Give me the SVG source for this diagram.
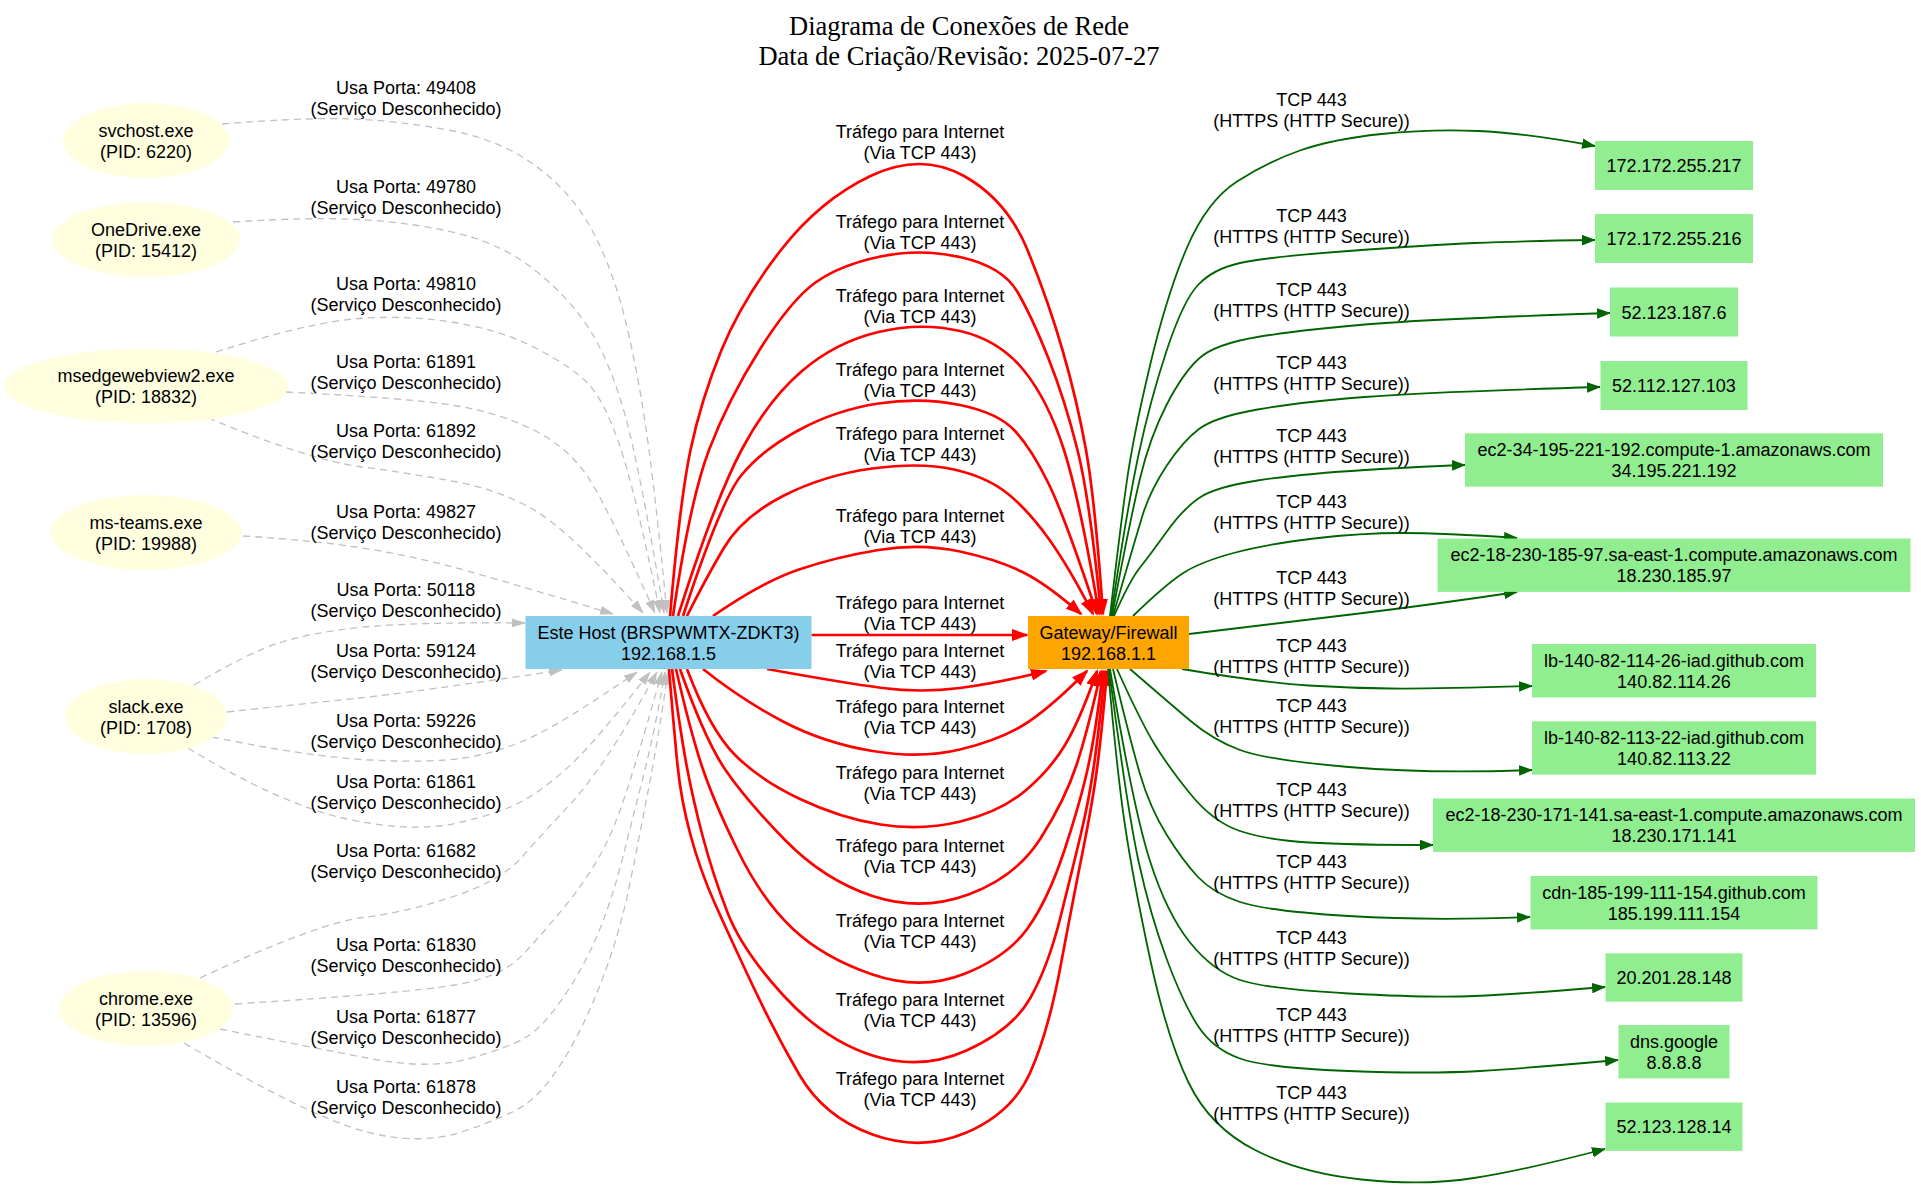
<svg xmlns="http://www.w3.org/2000/svg" width="1921" height="1187" viewBox="0 0 1921 1187">
<style>
text{font-family:"Liberation Sans",Arial,sans-serif;font-size:18px;fill:#000;text-anchor:middle}
.title{font-family:"Liberation Serif","Times New Roman",serif;font-size:26.5px}
.gray{fill:none;stroke:#c0c0c0;stroke-width:1.3;stroke-dasharray:7,5;marker-end:url(#ag)}
.red{fill:none;stroke:#ff0000;stroke-width:2.7;marker-end:url(#ar)}
.green{fill:none;stroke:#006400;stroke-width:1.8;marker-end:url(#agr)}
.proc{fill:#ffffe0}
.dest{fill:#90ee90}
</style>
<defs>
<marker id="ag" markerUnits="userSpaceOnUse" viewBox="0 0 14 9" refX="13" refY="4.5" markerWidth="14" markerHeight="9" orient="auto"><path d="M0,0 L14,4.5 L0,9 z" fill="#c0c0c0"/></marker>
<marker id="ar" markerUnits="userSpaceOnUse" viewBox="0 0 17 12" refX="15" refY="6" markerWidth="17" markerHeight="12" orient="auto"><path d="M0,0 L17,6 L0,12 z" fill="#ff0000"/></marker>
<marker id="agr" markerUnits="userSpaceOnUse" viewBox="0 0 14 10.6" refX="13" refY="5.3" markerWidth="14" markerHeight="10.6" orient="auto"><path d="M0,0 L14,5.3 L0,10.6 z" fill="#006400"/></marker>
</defs>
<rect width="1921" height="1187" fill="#fff"/>
<g id="title">
<text class="title" x="959" y="35">Diagrama de Conexões de Rede</text>
<text class="title" x="959" y="65">Data de Criação/Revisão: 2025-07-27</text>
</g>
<g id="connectors">
<path class="gray" d="M222,124 Q310,117 355,119 Q400,121 450.5,130.5 Q501,140 536.5,166.5 Q572,193 592,230 Q612,267 624.5,317 Q637,367 646,428.5 Q655,490 667,613"/>
<path class="gray" d="M233,222 Q310,217 359,219.5 Q408,222 454.5,232.5 Q501,243 536.5,271.5 Q572,300 592,333.5 Q612,367 626,418.5 Q640,470 664,613"/>
<path class="gray" d="M216,352 Q310,322 359,318.5 Q408,315 454.5,322.5 Q501,330 536.5,348.5 Q572,367 588,383.5 Q604,400 619.5,445 Q635,490 660,613"/>
<path class="gray" d="M286,392 Q408,398 454.5,405.5 Q501,413 536.5,431.5 Q572,450 592,483.5 Q612,517 655,613"/>
<path class="gray" d="M208,418 Q310,460 359,466.5 Q408,473 454.5,481.5 Q501,490 536.5,511.5 Q572,533 643,613"/>
<path class="gray" d="M243,536 Q310,540 359,547.5 Q408,555 454.5,567.5 Q501,580 613,614"/>
<path class="gray" d="M194,685 Q250,652 280,642.5 Q310,633 359,627.5 Q408,622 525,623"/>
<path class="gray" d="M227,712 Q310,703 359,698 Q408,693 562,670"/>
<path class="gray" d="M212,737 Q310,757 370,760 Q430,763 463.5,758 Q497,753 530,738 Q563,723 637,672"/>
<path class="gray" d="M188,748 Q282,805 347,819 Q412,833 457,823 Q502,813 524.5,800 Q547,787 572,763.5 Q597,740 650,672"/>
<path class="gray" d="M200,978 Q318,923 363,917.5 Q408,912 455,896 Q502,880 522.5,856.5 Q543,833 563.5,811.5 Q584,790 604.5,760 Q625,730 657,672"/>
<path class="gray" d="M235,1004 Q408,993 455,985 Q502,977 522.5,955 Q543,933 563.5,908 Q584,883 598.5,858 Q613,833 626.5,791.5 Q640,750 662,672"/>
<path class="gray" d="M220,1029 Q310,1047 369.5,1058.5 Q429,1070 469.5,1058.5 Q510,1047 526.5,1037 Q543,1027 563.5,997 Q584,967 598,933.5 Q612,900 622.5,858.5 Q633,817 644,773.5 Q655,730 665,672"/>
<path class="gray" d="M184,1043 Q310,1117 365,1131.5 Q420,1146 463,1131.5 Q506,1117 524.5,1105 Q543,1093 563.5,1060 Q584,1027 602,980 Q620,933 630,883 Q640,833 649,786.5 Q658,740 668,672"/>
<g id="gray-labels">
<text x="406" y="93.8">Usa Porta: 49408</text><text x="406" y="114.8">(Serviço Desconhecido)</text>
<text x="406" y="193.2">Usa Porta: 49780</text><text x="406" y="214.2">(Serviço Desconhecido)</text>
<text x="406" y="289.8">Usa Porta: 49810</text><text x="406" y="310.8">(Serviço Desconhecido)</text>
<text x="406" y="368.2">Usa Porta: 61891</text><text x="406" y="389.2">(Serviço Desconhecido)</text>
<text x="406" y="437.2">Usa Porta: 61892</text><text x="406" y="458.2">(Serviço Desconhecido)</text>
<text x="406" y="517.5">Usa Porta: 49827</text><text x="406" y="538.5">(Serviço Desconhecido)</text>
<text x="406" y="595.8">Usa Porta: 50118</text><text x="406" y="616.8">(Serviço Desconhecido)</text>
<text x="406" y="657.2">Usa Porta: 59124</text><text x="406" y="678.2">(Serviço Desconhecido)</text>
<text x="406" y="726.5">Usa Porta: 59226</text><text x="406" y="747.5">(Serviço Desconhecido)</text>
<text x="406" y="788.2">Usa Porta: 61861</text><text x="406" y="809.2">(Serviço Desconhecido)</text>
<text x="406" y="856.5">Usa Porta: 61682</text><text x="406" y="877.5">(Serviço Desconhecido)</text>
<text x="406" y="950.8">Usa Porta: 61830</text><text x="406" y="971.8">(Serviço Desconhecido)</text>
<text x="406" y="1022.5">Usa Porta: 61877</text><text x="406" y="1043.5">(Serviço Desconhecido)</text>
<text x="406" y="1093.2">Usa Porta: 61878</text><text x="406" y="1114.2">(Serviço Desconhecido)</text>
</g>
<path class="red" d="M670,616 Q680,500 690.5,450 Q701,400 721.5,350 Q742,300 781,250 Q820,200 870.5,176 Q921,152 964,176 Q1007,200 1027.5,250 Q1048,300 1062.5,350 Q1077,400 1086,450 Q1095,500 1103,614"/>
<path class="red" d="M673,616 Q690,500 709,450 Q728,400 759.5,350 Q791,300 815.5,282.5 Q840,265 880.5,256.5 Q921,248 962,257.5 Q1003,267 1017.5,292 Q1032,317 1048.5,358.5 Q1065,400 1077.5,450 Q1090,500 1101,614"/>
<path class="red" d="M678,616 Q715,500 741.5,450 Q768,400 802,371 Q836,342 878.5,332 Q921,322 960,331 Q999,340 1023.5,370 Q1048,400 1064,450 Q1080,500 1099,614"/>
<path class="red" d="M683,616 Q721,500 741.5,475 Q762,450 799,430 Q836,410 878.5,403.5 Q921,397 960,405 Q999,413 1015.5,431.5 Q1032,450 1048.5,483.5 Q1065,517 1097,614"/>
<path class="red" d="M687,616 Q705,580 723.5,548.5 Q742,517 783,496 Q824,475 872.5,468.5 Q921,462 954,469.5 Q987,477 1007.5,493.5 Q1028,510 1048.5,538.5 Q1069,567 1093,614"/>
<path class="red" d="M713,616 Q762,582 799,569.5 Q836,557 878.5,550 Q921,543 960,551.5 Q999,560 1023.5,572.5 Q1048,585 1081,614"/>
<path class="red" d="M811.5,635 L1027,635"/>
<path class="red" d="M767,669 Q844,683 882.5,688 Q921,693 960,688 Q999,683 1046,671"/>
<path class="red" d="M703,669 Q742,700 783,721.5 Q824,743 872.5,751 Q921,759 960,749.5 Q999,740 1023.5,725 Q1048,710 1087,671"/>
<path class="red" d="M687,669 Q710,730 735,755 Q760,780 800,799 Q840,818 880.5,824.5 Q921,831 960.5,821.5 Q1000,812 1025,791 Q1050,770 1065,745 Q1080,720 1097,671"/>
<path class="red" d="M680,669 Q705,740 725.5,770 Q746,800 785,840 Q824,880 872.5,896 Q921,912 968.5,894.5 Q1016,877 1040.5,838.5 Q1065,800 1076.5,765 Q1088,730 1101,671"/>
<path class="red" d="M676,669 Q690,730 701.5,765 Q713,800 737.5,850 Q762,900 793,929 Q824,958 872.5,974.5 Q921,991 964,974 Q1007,957 1027.5,928.5 Q1048,900 1064.5,850 Q1081,800 1088.5,765 Q1096,730 1103,671"/>
<path class="red" d="M672,669 Q680,730 686.5,765 Q693,800 703,837.5 Q713,875 727.5,912.5 Q742,950 783,995 Q824,1040 872.5,1055.5 Q921,1071 966.5,1050.5 Q1012,1030 1030,998.5 Q1048,967 1060.5,917 Q1073,867 1081,833.5 Q1089,800 1094,765 Q1099,730 1105,671"/>
<path class="red" d="M669,669 Q674,730 677.5,765 Q681,800 690.5,835 Q700,870 714,901.5 Q728,933 751.5,983 Q775,1033 799.5,1075 Q824,1117 872.5,1134.5 Q921,1152 966.5,1132.5 Q1012,1113 1030,1073 Q1048,1033 1060.5,966.5 Q1073,900 1083,850 Q1093,800 1097.5,765 Q1102,730 1107,671"/>
<g id="red-labels">
<text x="920" y="137.5">Tráfego para Internet</text><text x="920" y="158.5">(Via TCP 443)</text>
<text x="920" y="227.5">Tráfego para Internet</text><text x="920" y="248.5">(Via TCP 443)</text>
<text x="920" y="301.5">Tráfego para Internet</text><text x="920" y="322.5">(Via TCP 443)</text>
<text x="920" y="375.8">Tráfego para Internet</text><text x="920" y="396.8">(Via TCP 443)</text>
<text x="920" y="439.8">Tráfego para Internet</text><text x="920" y="460.8">(Via TCP 443)</text>
<text x="920" y="521.5">Tráfego para Internet</text><text x="920" y="542.5">(Via TCP 443)</text>
<text x="920" y="609.2">Tráfego para Internet</text><text x="920" y="630.2">(Via TCP 443)</text>
<text x="920" y="657.2">Tráfego para Internet</text><text x="920" y="678.2">(Via TCP 443)</text>
<text x="920" y="713.2">Tráfego para Internet</text><text x="920" y="734.2">(Via TCP 443)</text>
<text x="920" y="779.2">Tráfego para Internet</text><text x="920" y="800.2">(Via TCP 443)</text>
<text x="920" y="851.5">Tráfego para Internet</text><text x="920" y="872.5">(Via TCP 443)</text>
<text x="920" y="927.2">Tráfego para Internet</text><text x="920" y="948.2">(Via TCP 443)</text>
<text x="920" y="1005.5">Tráfego para Internet</text><text x="920" y="1026.5">(Via TCP 443)</text>
<text x="920" y="1084.8">Tráfego para Internet</text><text x="920" y="1105.8">(Via TCP 443)</text>
</g>
<path class="green" d="M1110,616 Q1120,530 1126.5,483.5 Q1133,437 1150,365.5 Q1167,294 1187,247.5 Q1207,201 1237,181.5 Q1267,162 1300,150.5 Q1333,139 1381.5,134 Q1430,129 1477.5,131 Q1525,133 1595,146"/>
<path class="green" d="M1111,616 Q1127,509 1138.5,455 Q1150,401 1166.5,351 Q1183,301 1198,285 Q1213,269 1240,263 Q1267,257 1348.5,251 Q1430,245 1475,243 Q1520,241 1595,240"/>
<path class="green" d="M1112,616 Q1130,520 1140,478.5 Q1150,437 1166.5,405 Q1183,373 1199,358.5 Q1215,344 1257.5,337 Q1300,330 1365,324.5 Q1430,319 1610,313"/>
<path class="green" d="M1113,616 Q1135,540 1142.5,515.5 Q1150,491 1166.5,466 Q1183,441 1199,429 Q1215,417 1257.5,409.5 Q1300,402 1365,397 Q1430,392 1600,387"/>
<path class="green" d="M1114,616 Q1130,580 1140,567.5 Q1150,555 1166.5,532 Q1183,509 1199,498 Q1215,487 1257.5,480.5 Q1300,474 1365,470 Q1430,466 1465,465"/>
<path class="green" d="M1133,616 Q1165,585 1182.5,573.5 Q1200,562 1233.5,553 Q1267,544 1314,538.5 Q1361,533 1402,533 Q1443,533 1517,538"/>
<path class="green" d="M1189,634 Q1280,623 1355,614 Q1430,605 1517,592"/>
<path class="green" d="M1182,669 Q1267,683 1308.5,685.5 Q1350,688 1390,688.5 Q1430,689 1532,686"/>
<path class="green" d="M1130,669 Q1167,701 1190,720.5 Q1213,740 1240,750 Q1267,760 1348.5,767 Q1430,774 1532,770"/>
<path class="green" d="M1117,669 Q1140,720 1153.5,742.5 Q1167,765 1190,793.5 Q1213,822 1240,831 Q1267,840 1308.5,842.5 Q1350,845 1433,845"/>
<path class="green" d="M1113,669 Q1130,740 1140,774 Q1150,808 1166.5,834.5 Q1183,861 1198,877 Q1213,893 1240,902 Q1267,911 1348.5,916 Q1430,921 1530,917"/>
<path class="green" d="M1110,669 Q1133,808 1150,861 Q1167,914 1190,942.5 Q1213,971 1240,980 Q1267,989 1348.5,993.5 Q1430,998 1475,996 Q1520,994 1605,987"/>
<path class="green" d="M1109,669 Q1127,808 1138.5,861 Q1150,914 1166.5,958.5 Q1183,1003 1198,1026 Q1213,1049 1240,1058.5 Q1267,1068 1348.5,1071 Q1430,1074 1480,1071 Q1530,1068 1618,1060"/>
<path class="green" d="M1108,669 Q1117,772 1125,825.5 Q1133,879 1150,958.5 Q1167,1038 1188.5,1082.5 Q1210,1127 1255,1150 Q1300,1173 1361.5,1179.5 Q1423,1186 1474,1178 Q1525,1170 1605,1149"/>
<g id="green-labels">
<text x="1311.5" y="105.5">TCP 443</text><text x="1311.5" y="126.5">(HTTPS (HTTP Secure))</text>
<text x="1311.5" y="221.5">TCP 443</text><text x="1311.5" y="242.5">(HTTPS (HTTP Secure))</text>
<text x="1311.5" y="295.5">TCP 443</text><text x="1311.5" y="316.5">(HTTPS (HTTP Secure))</text>
<text x="1311.5" y="368.5">TCP 443</text><text x="1311.5" y="389.5">(HTTPS (HTTP Secure))</text>
<text x="1311.5" y="441.5">TCP 443</text><text x="1311.5" y="462.5">(HTTPS (HTTP Secure))</text>
<text x="1311.5" y="507.5">TCP 443</text><text x="1311.5" y="528.5">(HTTPS (HTTP Secure))</text>
<text x="1311.5" y="584">TCP 443</text><text x="1311.5" y="605">(HTTPS (HTTP Secure))</text>
<text x="1311.5" y="651.5">TCP 443</text><text x="1311.5" y="672.5">(HTTPS (HTTP Secure))</text>
<text x="1311.5" y="711.5">TCP 443</text><text x="1311.5" y="732.5">(HTTPS (HTTP Secure))</text>
<text x="1311.5" y="796">TCP 443</text><text x="1311.5" y="817">(HTTPS (HTTP Secure))</text>
<text x="1311.5" y="867.5">TCP 443</text><text x="1311.5" y="888.5">(HTTPS (HTTP Secure))</text>
<text x="1311.5" y="944">TCP 443</text><text x="1311.5" y="965">(HTTPS (HTTP Secure))</text>
<text x="1311.5" y="1020.5">TCP 443</text><text x="1311.5" y="1041.5">(HTTPS (HTTP Secure))</text>
<text x="1311.5" y="1098.5">TCP 443</text><text x="1311.5" y="1119.5">(HTTPS (HTTP Secure))</text>
</g>
</g>
<g id="node-svchost"><ellipse class="proc" cx="146" cy="140.5" rx="83" ry="37.5"/><text x="146" y="136.5">svchost.exe</text><text x="146" y="157.5">(PID: 6220)</text></g>
<g id="node-onedrive"><ellipse class="proc" cx="146" cy="239.5" rx="94" ry="37.5"/><text x="146" y="235.5">OneDrive.exe</text><text x="146" y="256.5">(PID: 15412)</text></g>
<g id="node-msedgewebview2"><ellipse class="proc" cx="146" cy="386" rx="142" ry="37.5"/><text x="146" y="382">msedgewebview2.exe</text><text x="146" y="403">(PID: 18832)</text></g>
<g id="node-msteams"><ellipse class="proc" cx="146" cy="532.5" rx="96" ry="37.5"/><text x="146" y="528.5">ms-teams.exe</text><text x="146" y="549.5">(PID: 19988)</text></g>
<g id="node-slack"><ellipse class="proc" cx="146" cy="716.5" rx="81" ry="37.5"/><text x="146" y="712.5">slack.exe</text><text x="146" y="733.5">(PID: 1708)</text></g>
<g id="node-chrome"><ellipse class="proc" cx="146" cy="1008.5" rx="87" ry="37.5"/><text x="146" y="1004.5">chrome.exe</text><text x="146" y="1025.5">(PID: 13596)</text></g>
<g id="node-host"><rect x="525.5" y="616" width="286" height="53" fill="#87ceeb"/><text x="668.5" y="638.5">Este Host (BRSPWMTX-ZDKT3)</text><text x="668.5" y="659.5">192.168.1.5</text></g>
<g id="node-gateway"><rect x="1028" y="616" width="161" height="53" fill="#ffa500"/><text x="1108.5" y="638.5">Gateway/Firewall</text><text x="1108.5" y="659.5">192.168.1.1</text></g>
<g id="node-d1"><rect class="dest" x="1595" y="141" width="158" height="49"/><text x="1674" y="172">172.172.255.217</text></g>
<g id="node-d2"><rect class="dest" x="1595" y="214" width="158" height="49"/><text x="1674" y="245">172.172.255.216</text></g>
<g id="node-d3"><rect class="dest" x="1610" y="287.5" width="128" height="49"/><text x="1674" y="318.5">52.123.187.6</text></g>
<g id="node-d4"><rect class="dest" x="1600.5" y="361" width="147" height="49"/><text x="1674" y="391.8">52.112.127.103</text></g>
<g id="node-d5"><rect class="dest" x="1465" y="433.3" width="418" height="53.4"/><text x="1674" y="456">ec2-34-195-221-192.compute-1.amazonaws.com</text><text x="1674" y="477">34.195.221.192</text></g>
<g id="node-d6"><rect class="dest" x="1437.5" y="538.5" width="473" height="53.4"/><text x="1674" y="561.3">ec2-18-230-185-97.sa-east-1.compute.amazonaws.com</text><text x="1674" y="582.3">18.230.185.97</text></g>
<g id="node-d7"><rect class="dest" x="1532" y="644" width="284" height="53.4"/><text x="1674" y="666.7">lb-140-82-114-26-iad.github.com</text><text x="1674" y="687.7">140.82.114.26</text></g>
<g id="node-d8"><rect class="dest" x="1532" y="721.3" width="284" height="53.4"/><text x="1674" y="744">lb-140-82-113-22-iad.github.com</text><text x="1674" y="765">140.82.113.22</text></g>
<g id="node-d9"><rect class="dest" x="1433" y="798.5" width="482" height="53.4"/><text x="1674" y="821.3">ec2-18-230-171-141.sa-east-1.compute.amazonaws.com</text><text x="1674" y="842.3">18.230.171.141</text></g>
<g id="node-d10"><rect class="dest" x="1530.5" y="876" width="287" height="53.4"/><text x="1674" y="898.7">cdn-185-199-111-154.github.com</text><text x="1674" y="919.7">185.199.111.154</text></g>
<g id="node-d11"><rect class="dest" x="1605.5" y="953.3" width="137" height="48.4"/><text x="1674" y="984">20.201.28.148</text></g>
<g id="node-d12"><rect class="dest" x="1618.5" y="1025" width="111" height="53.4"/><text x="1674" y="1047.7">dns.google</text><text x="1674" y="1068.7">8.8.8.8</text></g>
<g id="node-d13"><rect class="dest" x="1605.5" y="1102.5" width="137" height="48.4"/><text x="1674" y="1133.2">52.123.128.14</text></g>
</svg>
